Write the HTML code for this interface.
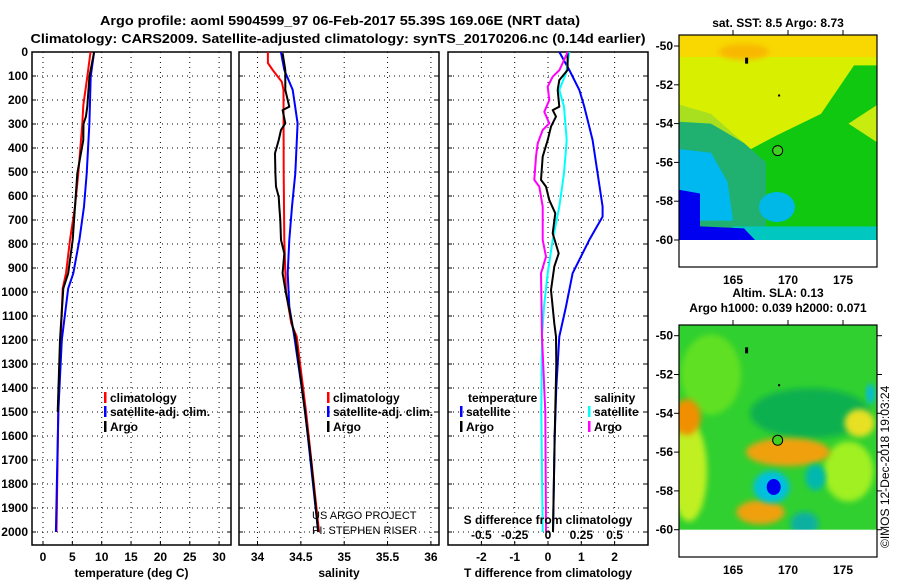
<!DOCTYPE html>
<html><head><meta charset="utf-8"><style>
html,body{margin:0;padding:0;background:#fff;}
svg text{font-family:"Liberation Sans",Arial,sans-serif;}
</style></head><body>
<svg id="c" width="900" height="580" viewBox="0 0 900 580" xmlns="http://www.w3.org/2000/svg">
<defs>
<filter id="bl" x="-20%" y="-20%" width="140%" height="140%"><feGaussianBlur stdDeviation="3"/></filter>
<clipPath id="m1"><rect x="679" y="35" width="198" height="205"/></clipPath>
<clipPath id="m2"><rect x="679" y="325" width="198" height="205"/></clipPath>
</defs>
<g font-weight="bold" font-size="13">
<text x="340" y="25" text-anchor="middle" textLength="480" lengthAdjust="spacingAndGlyphs">Argo profile: aoml 5904599_97 06-Feb-2017 55.39S 169.06E (NRT data)</text>
<text x="338" y="43" text-anchor="middle" textLength="615" lengthAdjust="spacingAndGlyphs">Climatology: CARS2009. Satellite-adjusted climatology: synTS_20170206.nc (0.14d earlier)</text>
</g>
<g id="panels"></g>
<g id="maps"></g>
</svg>
<script>
// ---------- data ----------
const depthTicks=[0,100,200,300,400,500,600,700,800,900,1000,1100,1200,1300,1400,1500,1600,1700,1800,1900,2000];
const tempTicks=[0,5,10,15,20,25,30];
const salTicks=[34,34.5,35,35.5,36];
const tdiffTicks=[-2,-1,0,1,2];
const sdiffTicks=[-0.5,-0.25,0,0.25,0.5];
const sdiffTickLabels=["-0.5","-0.25","0","0.25","0.5"];

const tClimDepth=[0,103,222,300,506,644,783,922,985,1200,1500,2000];
const tClimVal=[8.1,7.55,6.87,6.7,6.02,5.45,4.6,3.92,3.35,3.0,2.6,2.3];
const tSatDepth=[0,103,297,506,644,783,922,985,1200,1500,2000];
const tSatVal=[8.7,8.12,7.9,7.44,6.98,6.2,5.17,4.3,3.2,2.6,2.2];
const tArgoDepth=[0,103,228,269,300,367,506,644,783,922,985,1200,1500];
const tArgoVal=[8.7,7.9,7.55,7.3,6.9,6.87,5.85,5.45,5.06,4.3,3.45,2.9,2.5];

const sClimDepth=[0,46,75,124,158,506,783,1000,1131,1186,1500,2000];
const sClimVal=[34.12,34.12,34.175,34.28,34.30,34.302,34.309,34.329,34.39,34.452,34.56,34.71];
const sSatDepth=[0,75,158,297,506,644,783,922,1061,1186,1500,2000];
const sSatVal=[34.27,34.309,34.406,34.463,34.436,34.398,34.367,34.348,34.367,34.425,34.55,34.70];
const sArgoDepth=[5,75,158,228,242,297,325,367,422,506,561,603,644,700,783,839,922,1006,1061,1144,1186,1500,1700,2000];
const sArgoVal=[34.29,34.321,34.321,34.367,34.29,34.321,34.271,34.244,34.202,34.206,34.213,34.244,34.252,34.263,34.271,34.309,34.29,34.329,34.36,34.406,34.436,34.548,34.617,34.70];

const dtSatDepth=[0,75,158,228,367,506,644,686,783,922,1061,1186,1400,1600,2000];
const dtSatVal=[0.34,0.64,0.94,1.09,1.34,1.49,1.64,1.64,1.24,0.74,0.54,0.34,0.25,0.2,0.15];
const dtArgoDepth=[0,75,117,158,228,242,269,311,367,436,533,561,617,672,756,839,894,992,1131,1186,1300,1600,2000];
const dtArgoVal=[0.59,0.59,0.34,0.29,0.34,0.14,0.24,0.09,-0.01,-0.16,-0.21,-0.06,0.04,0.22,0.14,0.32,0.19,0.09,0.19,0.24,0.25,0.2,0.15];
const dsSatDepth=[0,89,158,228,367,506,644,783,922,1061,1186,1500,2000];
const dsSatVal=[0.16,0.135,0.085,0.12,0.14,0.12,0.085,0.035,-0.0025,-0.03,-0.045,-0.05,-0.04];
const dsArgoDepth=[0,75,103,144,200,249,297,325,381,436,533,561,644,783,853,922,1186,1500,2000];
const dsArgoVal=[0.148,0.086,0.035,-0.0025,0.01,-0.0275,0.01,-0.04,-0.0775,-0.09,-0.1025,-0.065,-0.04,-0.04,-0.015,-0.0525,-0.045,-0.02,-0.015];

// ---------- scales ----------
const Y0=52, YS=0.24, YB=545;
const yD=d=>Y0+d*YS;
const xT=v=>43+v*5.87;
const xS=v=>257.5+(v-34)*86.7;
const xDT=v=>548+v*33.3;
const xDS=v=>548+v*133.3;
const NS="http://www.w3.org/2000/svg";
const P=document.getElementById('panels');
function mk(tag,attrs,parent,text){const e=document.createElementNS(NS,tag);for(const k in attrs)e.setAttribute(k,attrs[k]);if(text!==undefined)e.textContent=text;(parent||P).appendChild(e);return e;}

function panel(name,x0,x1,ticks,xf,labels,title){
  const g=mk('g',{});
  
  
  depthTicks.forEach(d=>{
    const l=mk('line',{x1:x0,x2:x1,y1:yD(d),y2:yD(d),stroke:'#000','stroke-width':1,'stroke-dasharray':'1,4'},g);
    
    
    mk('line',{x1:x0,x2:x0+4,y1:yD(d),y2:yD(d),stroke:'#000'},g);
    mk('line',{x1:x1-4,x2:x1,y1:yD(d),y2:yD(d),stroke:'#000'},g);
  });
  ticks.forEach((t,i)=>{
    const x=xf(t);
    const l=mk('line',{x1:x,x2:x,y1:Y0,y2:YB,stroke:'#000','stroke-width':1,'stroke-dasharray':'1,4'},g);
    
    
    mk('line',{x1:x,x2:x,y1:YB,y2:YB-4,stroke:'#000'},g);
    const tx=mk('text',{x:x,y:561,'text-anchor':'middle','font-size':12,'font-weight':'bold'},g,labels?labels[i]:String(t));
    
    
  });
  const b=mk('rect',{x:x0,y:Y0,width:x1-x0,height:YB-Y0,fill:'none',stroke:'#000','stroke-width':1.5},g);
  
  
  const tt=mk('text',{x:(x0+x1)/2,y:577,'text-anchor':'middle','font-size':12,'font-weight':'bold'},g,title);
  
  
  return g;
}
function line(g,name,depths,vals,xf,color,w){
  const pts=depths.map((d,i)=>xf(vals[i]).toFixed(1)+','+yD(d).toFixed(1)).join(' ');
  const p=mk('polyline',{points:pts,fill:'none',stroke:color,'stroke-width':w||2,'stroke-linejoin':'round'},g);
  
  
}
function legItem(g,x,y,color,txt){
  mk('rect',{x:x,y:y-10,width:2.5,height:11,fill:color},g);
  const t=mk('text',{x:x+6,y:y,'font-size':12,'font-weight':'bold'},g,txt);
  
  
}

depthTicks.forEach(d=>{
  const t=mk('text',{x:28,y:yD(d)+4,'text-anchor':'end','font-size':12,'font-weight':'bold'},P,String(d));
  
  
});

const g1=panel('temperature-panel',32,231,tempTicks,xT,null,'temperature (deg C)');
line(g1,'temp-climatology-line',tClimDepth,tClimVal,xT,'#f00');
line(g1,'temp-satellite-line',tSatDepth,tSatVal,xT,'#00f');
line(g1,'temp-argo-line',tArgoDepth,tArgoVal,xT,'#000');
const l1=mk('g',{},g1);
legItem(l1,104,402,'#f00','climatology');
legItem(l1,104,416,'#00f','satellite-adj. clim.');
legItem(l1,104,431,'#000','Argo');

const g2=panel('salinity-panel',239,439,salTicks,xS,null,'salinity');
line(g2,'sal-climatology-line',sClimDepth,sClimVal,xS,'#f00');
line(g2,'sal-satellite-line',sSatDepth,sSatVal,xS,'#00f');
line(g2,'sal-argo-line',sArgoDepth,sArgoVal,xS,'#000');
const l2=mk('g',{},g2);
legItem(l2,327,402,'#f00','climatology');
legItem(l2,327,416,'#00f','satellite-adj. clim.');
legItem(l2,327,431,'#000','Argo');
const c1=mk('text',{x:312,y:519,'font-size':11},g2,'US ARGO PROJECT');
const c2=mk('text',{x:312,y:534,'font-size':11},g2,'PI: STEPHEN RISER');

const g3=panel('difference-panel',448,648,tdiffTicks,xDT,null,'T difference from climatology');
line(g3,'tdiff-satellite-line',dtSatDepth,dtSatVal,xDT,'#00f');
line(g3,'sdiff-satellite-line',dsSatDepth,dsSatVal,xDS,'#0ff');
line(g3,'tdiff-argo-line',dtArgoDepth,dtArgoVal,xDT,'#000');
line(g3,'sdiff-argo-line',dsArgoDepth,dsArgoVal,xDS,'#f0f');
sdiffTicks.forEach((t,i)=>{
  const s=mk('text',{x:xDS(t),y:539,'text-anchor':'middle','font-size':12,'font-weight':'bold'},g3,sdiffTickLabels[i]);
  
  
});
const st=mk('text',{x:548,y:524,'text-anchor':'middle','font-size':12,'font-weight':'bold'},g3,'S difference from climatology');

const l3=mk('g',{},g3);
const h1=mk('text',{x:468,y:402,'font-size':12,'font-weight':'bold'},l3,'temperature');
const h2=mk('text',{x:594,y:402,'font-size':12,'font-weight':'bold'},l3,'salinity');
legItem(l3,460,416,'#00f','satellite');
legItem(l3,460,431,'#000','Argo');
legItem(l3,588,416,'#0ff','satellite');
legItem(l3,588,431,'#f0f','Argo');

// ---------- maps ----------
const M=document.getElementById('maps');
const lonTicks=[165,170,175];
const latTicks=[-50,-52,-54,-56,-58,-60];
function mapFrame(name,top,lat50,clip,title1,title2,rightTicks){
  const g=mk('g',{},M);
  
  
  const X=lon=>733+(lon-165)*11;
  const Y=lat=>lat50+(-50-lat)*19.4;
  const body=mk('g',{'clip-path':'url(#'+clip+')'},g);
  return {g,body,X,Y,finish(){
    mk('rect',{x:679,y:Y(-60),width:198,height:top+232-Y(-60),fill:'#fff'},g);
    mk('rect',{x:679,y:top,width:198,height:232,fill:'none',stroke:'#000','stroke-width':1.2},g);
    lonTicks.forEach(l=>{
      mk('line',{x1:X(l),x2:X(l),y1:top,y2:top-5,stroke:'#000'},g);
      const t=mk('text',{x:X(l),y:top+249,'text-anchor':'middle','font-size':12,'font-weight':'bold'},g,String(l));
      
    });
    latTicks.forEach(l=>{
      mk('line',{x1:679,x2:674,y1:Y(l),y2:Y(l),stroke:'#000'},g);
      if(rightTicks)mk('line',{x1:877,x2:882,y1:Y(l),y2:Y(l),stroke:'#000'},g);
      const t=mk('text',{x:673,y:Y(l)+4,'text-anchor':'end','font-size':12,'font-weight':'bold'},g,String(l));
      
    });
    const t1=mk('text',{x:778,y:title2?top-28:top-8,'text-anchor':'middle','font-size':12,'font-weight':'bold'},g,title1);
    
    if(title2){const t2=mk('text',{x:778,y:top-13,'text-anchor':'middle','font-size':12,'font-weight':'bold'},g,title2);}
    mk('circle',{cx:X(169.06),cy:Y(-55.39),r:5,fill:'#40d020',stroke:'#000','stroke-width':1},g);
    mk('rect',{x:X(166.1),y:Y(-50.6),width:3,height:6,fill:'#000'},g);
    mk('rect',{x:X(169.1),y:Y(-52.5),width:2,height:2,fill:'#000'},g);
  }};
}
const A=mapFrame('sst-map',35,46,'m1','sat. SST: 8.5 Argo: 8.73',null,false);
(function(){const b=A.body,X=A.X,Y=A.Y;
 mk('rect',{x:679,y:35,width:198,height:210,fill:'#d8f000'},b);
 mk('rect',{x:679,y:35,width:198,height:22,fill:'#f8d800'},b);
 mk('ellipse',{cx:X(166),cy:Y(-50.3),rx:25,ry:8,fill:'#f8b800',filter:'url(#bl)'},b);
 mk('polygon',{points:[[X(160),Y(-53)],[X(163),Y(-53.5)],[X(166),Y(-55)],[X(160),Y(-55)]].map(p=>p.join(',')).join(' '),fill:'#a8e020'},b);
 mk('polygon',{points:[[X(178.2),Y(-51)],[X(176),Y(-51)],[X(173),Y(-53.5)],[X(169),Y(-54.6)],[X(166),Y(-55.5)],[X(166),Y(-60)],[X(178.2),Y(-60)]].map(p=>p.join(',')).join(' '),fill:'#10c810'},b);
 mk('polygon',{points:[[X(175.5),Y(-54)],[X(178.2),Y(-53)],[X(178.2),Y(-55)]].map(p=>p.join(',')).join(' '),fill:'#c8ec10'},b);
 mk('polygon',{points:[[X(160),Y(-53.9)],[X(163),Y(-54)],[X(166),Y(-55)],[X(168),Y(-56)],[X(168),Y(-60)],[X(160),Y(-60)]].map(p=>p.join(',')).join(' '),fill:'#20b070'},b);
 mk('polygon',{points:[[X(160),Y(-55.3)],[X(163),Y(-55.5)],[X(164.5),Y(-57)],[X(165),Y(-59)],[X(160),Y(-59)]].map(p=>p.join(',')).join(' '),fill:'#00b8f0'},b);
 mk('ellipse',{cx:X(169),cy:Y(-58.3),rx:18,ry:15,fill:'#00b8e8'},b);
 mk('rect',{x:X(165),y:Y(-59.3),width:X(178.2)-X(165),height:Y(-60)-Y(-59.3),fill:'#00c8c0'},b);
 mk('polygon',{points:[[X(160),Y(-57.4)],[X(162),Y(-57.6)],[X(162),Y(-59.3)],[X(166),Y(-59.4)],[X(167),Y(-60)],[X(160),Y(-60)]].map(p=>p.join(',')).join(' '),fill:'#0000f0'},b);
 A.finish();})();
const B=mapFrame('sla-map',325,335.7,'m2','Altim. SLA: 0.13','Argo h1000: 0.039 h2000: 0.071',true);
(function(){const b=B.body,X=B.X,Y=B.Y;
 mk('rect',{x:679,y:325,width:198,height:210,fill:'#30d030'},b);
 const blobs=[[163,-52,30,40,'#60e020'],[172,-54,60,25,'#10b050'],[161,-57,18,50,'#c0f020'],[175.5,-57,25,30,'#a0f020'],[176.5,-54.5,15,14,'#e8e020'],
   [160.8,-54.2,14,18,'#f09000'],[170,-56,42,14,'#f0a010'],[167.5,-59.1,24,12,'#f0a010'],[168.5,-57.8,18,16,'#00c0e0'],[172.5,-57.3,10,13,'#00b8b0'],[171.5,-59.7,14,12,'#10b0a0'],[177.5,-53,4,10,'#00b8f0']];
 blobs.forEach(c=>mk('ellipse',{cx:X(c[0]),cy:Y(c[1]),rx:c[2],ry:c[3],fill:c[4],filter:'url(#bl)'},b));
 mk('ellipse',{cx:X(168.7),cy:Y(-57.8),rx:7,ry:8,fill:'#0000f0'},b);
 B.finish();})();
const im=mk('text',{x:0,y:0,'font-size':12,transform:'translate(889,548) rotate(-90)'},M,'©IMOS 12-Dec-2018 19:03:24');


</script>
</body></html>
